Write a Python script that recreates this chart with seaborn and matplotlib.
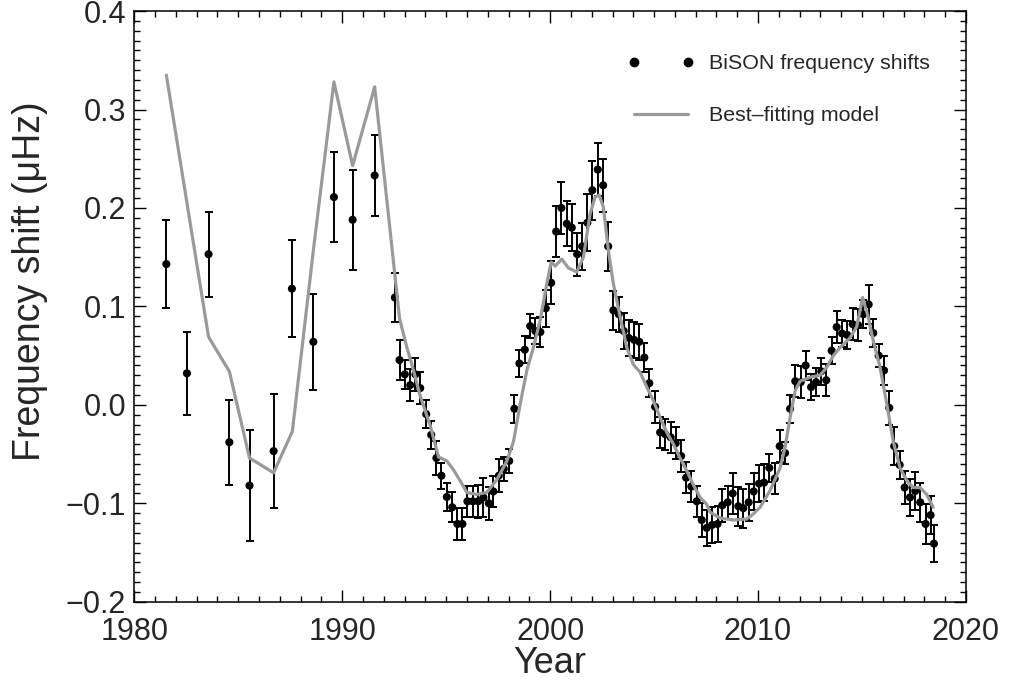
import matplotlib
matplotlib.use("Agg")
import matplotlib.pyplot as plt
from matplotlib.lines import Line2D
from matplotlib.ticker import MultipleLocator, FuncFormatter
import numpy as np
import pandas as pd
import seaborn as sns

# --- BiSON frequency shifts: early annual averages ---
early_year = [1981.54, 1982.53, 1983.57, 1984.57, 1985.54, 1986.70,
              1987.58, 1988.61, 1989.60, 1990.50, 1991.56, 1992.53]
early_shift = [0.143, 0.032, 0.153, -0.038, -0.082, -0.047,
               0.118, 0.064, 0.211, 0.188, 0.233, 0.109]
early_err = [0.045, 0.042, 0.043, 0.043, 0.056, 0.058,
             0.049, 0.049, 0.046, 0.051, 0.041, 0.025]

# --- BiSON frequency shifts: dense series from 1992.75 on ---
dense_year = [1992.755, 1993.01, 1993.27, 1993.52, 1993.75, 1994.04, 1994.28, 1994.53, 1994.77, 1995.03,
              1995.29, 1995.54, 1995.78, 1996.02, 1996.28, 1996.54, 1996.79, 1997.05, 1997.27, 1997.53,
              1997.77, 1998.03, 1998.28, 1998.52, 1998.78, 1999.04, 1999.29, 1999.53, 1999.79, 2000.05,
              2000.29, 2000.54, 2000.80, 2001.04, 2001.30, 2001.54, 2001.79, 2002.03, 2002.29, 2002.55,
              2002.79, 2003.04, 2003.30, 2003.54, 2003.78, 2004.04, 2004.29, 2004.53, 2004.77, 2005.05,
              2005.29, 2005.54, 2005.80, 2006.04, 2006.30, 2006.54, 2006.79, 2007.05, 2007.29, 2007.53,
              2007.79, 2008.05, 2008.28, 2008.54, 2008.78, 2009.05, 2009.29, 2009.55, 2009.79, 2010.05,
              2010.29, 2010.54, 2010.80, 2011.04, 2011.30, 2011.54, 2011.79, 2012.05, 2012.29, 2012.55,
              2012.79, 2013.04, 2013.28, 2013.54, 2013.78, 2014.04, 2014.29, 2014.55, 2014.81, 2015.06,
              2015.32, 2015.54, 2015.80, 2016.06, 2016.31, 2016.55, 2016.81, 2017.05, 2017.31, 2017.56,
              2017.80, 2018.06, 2018.30, 2018.46]
dense_shift = [0.0455, 0.031, 0.020, 0.031, 0.017, -0.0095, -0.0305, -0.054, -0.072, -0.0936,
               -0.104, -0.121, -0.121, -0.098, -0.098, -0.098, -0.094, -0.100, -0.088, -0.072,
               -0.065, -0.057, -0.004, 0.042, 0.056, 0.080, 0.075, 0.074, 0.098, 0.124,
               0.176, 0.200, 0.184, 0.180, 0.153, 0.161, 0.185, 0.218, 0.239, 0.223,
               0.161, 0.096, 0.092, 0.075, 0.068, 0.066, 0.064, 0.048, 0.022, -0.002,
               -0.028, -0.030, -0.033, -0.039, -0.052, -0.074, -0.083, -0.098, -0.117, -0.125,
               -0.122, -0.121, -0.102, -0.099, -0.090, -0.103, -0.105, -0.099, -0.088, -0.080,
               -0.079, -0.064, -0.075, -0.042, -0.049, -0.004, 0.024, 0.023, 0.040, 0.018,
               0.023, 0.034, 0.025, 0.055, 0.079, 0.0725, 0.071, 0.082, 0.081, 0.092,
               0.102, 0.073, 0.050, 0.035, -0.003, -0.042, -0.061, -0.084, -0.094, -0.0875,
               -0.099, -0.121, -0.112, -0.141]
dense_err = [0.020, 0.015, 0.016, 0.017, 0.016, 0.014, 0.014, 0.017, 0.013, 0.014,
             0.015, 0.016, 0.016, 0.016, 0.016, 0.017, 0.020, 0.017, 0.016, 0.017,
             0.012, 0.012, 0.014, 0.014, 0.014, 0.012, 0.013, 0.015, 0.019, 0.022,
             0.026, 0.026, 0.023, 0.024, 0.022, 0.024, 0.029, 0.030, 0.027, 0.027,
             0.025, 0.020, 0.018, 0.018, 0.018, 0.018, 0.018, 0.015, 0.014, 0.016,
             0.016, 0.016, 0.016, 0.016, 0.016, 0.016, 0.016, 0.016, 0.017, 0.018,
             0.018, 0.018, 0.017, 0.017, 0.021, 0.020, 0.020, 0.019, 0.019, 0.019,
             0.019, 0.014, 0.016, 0.016, 0.011, 0.014, 0.016, 0.016, 0.015, 0.013,
             0.014, 0.014, 0.016, 0.014, 0.016, 0.014, 0.014, 0.016, 0.016, 0.014,
             0.020, 0.014, 0.012, 0.015, 0.017, 0.019, 0.014, 0.017, 0.019, 0.019,
             0.020, 0.020, 0.019, 0.019]

# --- Best-fitting model ---
model_year = [1981.54, 1983.57, 1984.57, 1985.54, 1986.70, 1987.60, 1988.60, 1989.60,
              1990.50, 1991.56, 1992.755, 1993.11, 1993.35, 1993.75, 1994.23, 1994.63,
              1995.03, 1995.35, 1995.75, 1995.99, 1996.47, 1996.95, 1997.44, 1997.92,
              1998.24, 1998.56, 1998.88, 1999.19, 1999.52, 1999.84, 2000.05, 2000.24,
              2000.56, 2000.88, 2001.28, 2001.60, 2001.92, 2002.16, 2002.36, 2002.56,
              2002.80, 2003.04, 2003.37, 2003.69, 2004.00, 2004.33, 2004.65, 2004.97,
              2005.29, 2005.61, 2005.93, 2006.25, 2006.57, 2006.88, 2007.21, 2007.53,
              2007.69, 2008.17, 2008.81, 2009.45, 2009.76, 2010.10, 2010.58, 2011.06,
              2011.30, 2011.54, 2011.78, 2012.02, 2012.50, 2012.98, 2013.30, 2013.62,
              2013.94, 2014.42, 2014.74, 2015.03, 2015.30, 2015.54, 2015.87, 2016.19,
              2016.50, 2016.83, 2017.15, 2017.46, 2017.79, 2018.11, 2018.42]
model_shift = [0.335, 0.069, 0.034, -0.054, -0.069, -0.027, 0.155, 0.328,
               0.243, 0.323, 0.088, 0.058, 0.041, 0.009, -0.021, -0.053,
               -0.057, -0.066, -0.080, -0.089, -0.091, -0.089, -0.076, -0.057,
               -0.037, 0.001, 0.035, 0.058, 0.086, 0.123, 0.145, 0.141,
               0.148, 0.139, 0.135, 0.150, 0.194, 0.211, 0.213, 0.201,
               0.157, 0.123, 0.089, 0.058, 0.041, 0.033, 0.018, 0.004,
               -0.013, -0.028, -0.040, -0.054, -0.067, -0.081, -0.094, -0.101,
               -0.109, -0.115, -0.117, -0.116, -0.111, -0.104, -0.087, -0.064,
               -0.043, -0.013, 0.014, 0.024, 0.028, 0.030, 0.038, 0.050,
               0.058, 0.068, 0.079, 0.109, 0.089, 0.065, 0.038, 0.001,
               -0.037, -0.064, -0.077, -0.084, -0.084, -0.091, -0.104]

data = pd.DataFrame({
    "year": early_year + dense_year,
    "shift": early_shift + dense_shift,
    "err": early_err + dense_err,
})
model = pd.DataFrame({"year": model_year, "shift": model_shift})

sns.set_theme(style="ticks")
plt.rcParams["font.family"] = ["Liberation Sans", "DejaVu Sans"]

fig = plt.figure(figsize=(10.10, 6.83), dpi=100)
ax = fig.add_axes([0.1330, 0.1190, 0.8234, 0.8648])

model_grey = "#9a9a9a"

# error bars and data points
ax.errorbar(data["year"], data["shift"], yerr=data["err"], fmt="none",
            ecolor="black", elinewidth=1.4, capsize=3.0, capthick=1.4, zorder=2)
sns.scatterplot(data=data, x="year", y="shift", ax=ax, color="black",
                s=34, edgecolor="none", linewidth=0, zorder=3, legend=False)

# model curve
sns.lineplot(data=model, x="year", y="shift", ax=ax, color=model_grey,
             linewidth=2.3, estimator=None, sort=False, zorder=4, legend=False)

ax.set_xlim(1980, 2020)
ax.set_ylim(-0.2, 0.4)

ax.xaxis.set_major_locator(MultipleLocator(10))
ax.xaxis.set_minor_locator(MultipleLocator(1))
ax.yaxis.set_major_locator(MultipleLocator(0.1))
ax.yaxis.set_minor_locator(MultipleLocator(0.01))
ax.yaxis.set_major_formatter(
    FuncFormatter(lambda v, _: f"{v:.1f}".replace("-", "\u2212") if abs(v) > 1e-9 else "0.0"))

ax.tick_params(which="both", direction="in", top=True, right=True,
               color="black", width=1.0)
ax.tick_params(which="major", length=8.5)
ax.tick_params(which="minor", length=4.2)
ax.tick_params(axis="x", which="major", labelsize=22, pad=11)
ax.tick_params(axis="y", which="major", labelsize=22, pad=6)

for sp in ax.spines.values():
    sp.set_visible(True)
    sp.set_color("black")
    sp.set_linewidth(1.1)

ax.set_xlabel("Year", fontsize=26, labelpad=-1)
ax.set_ylabel("Frequency shift (μHz)", fontsize=27)
ax.yaxis.set_label_coords(-0.104, 0.543)

handles = [
    Line2D([], [], color="black", marker="o", linestyle="none", markersize=6),
    Line2D([], [], color=model_grey, linewidth=2.3),
]
labels = ["BiSON frequency shifts", "Best–fitting model"]
ax.legend(handles, labels, loc="upper right", bbox_to_anchor=(0.9565, 0.927),
          frameon=False, numpoints=2, handlelength=3.1, handletextpad=0.7,
          labelspacing=1.55, fontsize=15.4, borderpad=0, borderaxespad=0)

fig.savefig("out.png", dpi=100)
